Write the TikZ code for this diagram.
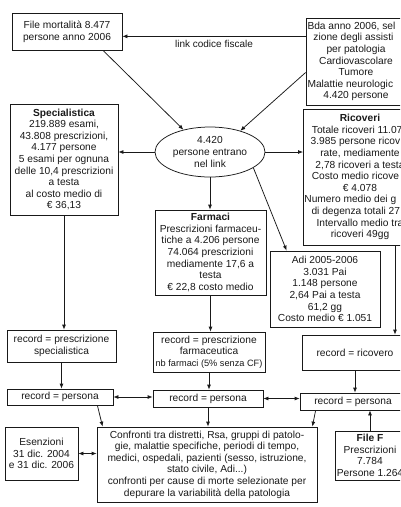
\documentclass[tikz,border=0pt]{standalone}
\usepackage{fontspec}
\setmainfont{Liberation Sans}
\usetikzlibrary{shapes.geometric, arrows.meta, positioning, calc}
\tikzstyle{block} = [rectangle, draw, align=center, inner sep=1pt,
    font=\fontsize{10.2}{11.6}\selectfont]
\tikzstyle{bubble} = [ellipse, draw, align=center, inner sep=0pt,
    minimum width=110pt, minimum height=50pt, font=\fontsize{10.2}{11.6}\selectfont]
\tikzstyle{arrow} = [-{Latex[length=5pt, width=4pt]}]
\tikzstyle{biarrow} = [{Latex[length=5pt, width=4pt]}-{Latex[length=5pt, width=4pt]}]

\begin{document}
\begin{tikzpicture}[x=1pt, y=-1pt, line width=0.75pt, draw=black!90, text=black!90]
    \useasboundingbox (0,0) rectangle (400,507);
    \clip (0,0) rectangle (400,507);
    % Sources
    \node [block, minimum width=110pt, minimum height=37pt] (mort) at (67,31.5)
        {File mortalità 8.477\\persone anno 2006};
    \node [block, minimum width=100pt, minimum height=87pt] (bda) at (356,61.5)
        {Bda anno 2006, sel\phantom{e-}\\zione degli assisti\phantom{ti}\\per patologia\\Cardiovascolare\\Tumore\\Malattie neurologic\phantom{he}\\4.420 persone};
    \node [bubble] (link) at (210,152) {4.420\\persone entrano\\nel link};

    % Archives
    \node [block, minimum width=108pt, minimum height=111pt] (spec) at (64,159.5)
        {\textbf{Specialistica}\\219.889 esami,\\43.808 prescrizioni,\\4.177 persone\\5 esami per ognuna\\delle 10,4 prescrizioni\\a testa\\al costo medio di\\€ 36,13};
    \node [block, minimum width=110pt, minimum height=136pt] (ric) at (360,177)
        {\textbf{Ricoveri}\\Totale ricoveri 11.07\phantom{8}\\3.985 persone ricov\phantom{e-}\\rate, mediamente\\2,78 ricoveri a testa\\Costo medio ricove\phantom{ro}\\€ 4.078\\Numero medio dei g\phantom{iorni}\\di degenza totali 27\phantom{,3}\\Intervallo medio tra\\ricoveri 49gg};
    \node [block, minimum width=111pt, minimum height=85pt] (farm) at (210.5,252.5)
        {\textbf{Farmaci}\\Prescrizioni farmaceu-\\tiche a 4.206 persone\\74.064 prescrizioni\\mediamente 17,6 a\\testa\\€ 22,8 costo medio};
    \node [block, minimum width=110pt, minimum height=76pt] (adi) at (325,289)
        {Adi 2005-2006\\3.031 Pai\\1.148 persone\\2,64 Pai a testa\\61,2 gg\\Costo medio € 1.051};

    % Records
    \node [block, minimum width=109pt, minimum height=32pt] (recspec) at (61.5,346)
        {record = prescrizione\\specialistica};
    \node [block, minimum width=112pt, minimum height=40pt] (recfarm) at (209,352)
        {record = prescrizione\\farmaceutica\\{\fontsize{9.2}{10.4}\selectfont nb farmaci (5\% senza CF)}};
    \node [block, minimum width=106pt, minimum height=35pt] (recric) at (355,352.5)
        {record = ricovero};
    \node [block, minimum width=106pt, minimum height=16pt] (pers1) at (60,397) {record = persona};
    \node [block, minimum width=110pt, minimum height=17pt] (pers2) at (208,398.5) {record = persona};
    \node [block, minimum width=106pt, minimum height=17pt] (pers3) at (353,401.5) {record = persona};

    % Bottom row
    \node [block, minimum width=73pt, minimum height=53pt] (esen) at (41.5,453.5)
        {Esenzioni\\31 dic. 2004\\e 31 dic. 2006};
    \node [block, minimum width=220pt, minimum height=75pt] (conf) at (207,464.5)
        {Confronti tra distretti, Rsa, gruppi di patolo-\\gie, malattie specifiche, periodi di tempo,\\medici, ospedali, pazienti (sesso, istruzione,\\stato civile, Adi...)\\confronti per cause di morte selezionate per\\depurare la variabilità della patologia};
    \node [block, minimum width=70pt, minimum height=49pt] (filef) at (370,455.5)
        {\textbf{File F}\\Prescrizioni\\7.784\\Persone 1.264};

    % Linkage
    \draw [arrow] (bda.west |- mort.-5) -- node [below] {link codice fiscale} (mort.-5);
    \draw [arrow] ([xshift=36pt]mort.south) -- (link.140);
    \draw [arrow] ([yshift=-11pt]bda.west) -- (link.35);
    \draw [arrow] (link.west) -- (link.west -| spec.east);
    \draw [arrow] (link.east) -- (link.east -| ric.west);
    \draw [arrow] (link.south) -- (link.south |- farm.north);
    \draw [arrow] (link.-20) -- ([xshift=17pt]adi.north west);

    % Down to records
    \draw [arrow] (spec.south) -- (spec.south |- recspec.north);
    \draw [arrow] (farm.south) -- (farm.south |- recfarm.north);
    \draw [arrow] ([xshift=35pt]ric.south) -- ([xshift=35pt]ric.south |- recric.north);
    \draw [arrow] (recspec.south) -- (recspec.south |- pers1.north);
    \draw [arrow] (recfarm.south) -- (recfarm.south |- pers2.north);
    \draw [arrow] (recric.south) -- (recric.south |- pers3.north);
    \draw [biarrow] (pers1.east) -- (pers1.east -| pers2.west);
    \draw [biarrow] (pers2.east) -- (pers2.east -| pers3.west);

    % Comparisons
    \draw [arrow] ([xshift=-16pt]pers1.south east) -- ([xshift=6pt]conf.north west);
    \draw [arrow] (pers2.south) -- (pers2.south |- conf.north);
    \draw [arrow] ([xshift=16pt]pers3.south west) -- ([xshift=-5pt]conf.north east);
    \draw [biarrow] (esen.east) -- (esen.east -| conf.west);
    \draw [arrow] (filef.north) -- (filef.north |- pers3.south);
\end{tikzpicture}
\end{document}
